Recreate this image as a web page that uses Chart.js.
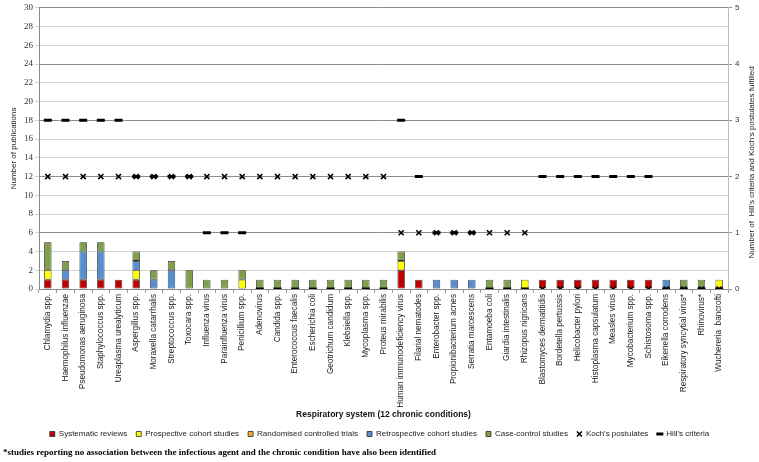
<!DOCTYPE html>
<html>
<head>
<meta charset="utf-8">
<script src="https://cdn.jsdelivr.net/npm/chart.js@4.4.1/dist/chart.umd.min.js"></script>
<style>
  html, body { margin: 0; padding: 0; background: #fff; }
  #wrap { position: relative; width: 759px; height: 462px; overflow: hidden; }
  #note { position: absolute; left: 3px; top: 447px; font: bold 9px "Liberation Serif", "Times New Roman", serif; color: #000; white-space: nowrap; }
</style>
</head>
<body>
<div id="wrap">
  <canvas id="c" width="759" height="462"></canvas>
  <div id="note">*studies reporting no association between the infectious agent and the chronic condition have also been identified</div>
</div>
<script>
const categories = [
  "Chlamydia spp.", "Haemophilus influenzae", "Pseudomonas aeruginosa", "Staphylococcus spp.",
  "Ureaplasma urealyticum", "Aspergillus spp.", "Moraxella catarrhalis", "Streptococcus spp.",
  "Toxocara spp.", "Influenza virus", "Parainfluenza virus", "Penicillium spp.", "Adenovirus",
  "Candida spp.", "Enterococcus faecalis", "Escherichia coli", "Geotrichum candidum",
  "Klebsiella spp.", "Mycoplasma spp.", "Proteus mirabilis", "Human immunodeficiency virus",
  "Filarial nematodes", "Enterobacter spp.", "Propionibacterium acnes", "Serratia marcescens",
  "Entamoeba coli", "Giardia intestinalis", "Rhizopus nigricans", "Blastomyces dermatitidis",
  "Bordetella pertussis", "Helicobacter pylori", "Histoplasma capsulatum", "Measles virus",
  "Mycobacterium spp.", "Schistosoma spp.", "Eikenella corrodens", "Respiratory syncytial virus*",
  "Rhinovirus*", "Wuchereria  bancrofti"
];
const systematicReviews = [1,1,1,1,1,1,0,0,0,0,0,0,0,0,0,0,0,0,0,0,2,1,0,0,0,0,0,0,1,1,1,1,1,1,1,0,0,0,0];
const prospectiveCohort = [1,0,0,0,0,1,0,0,0,0,0,1,0,0,0,0,0,0,0,0,1,0,0,0,0,0,0,1,0,0,0,0,0,0,0,0,0,0,1];
const randomisedTrials  = [0,0,0,0,0,0,0,0,0,0,0,0,0,0,0,0,0,0,0,0,0,0,0,0,0,0,0,0,0,0,0,0,0,0,0,0,0,0,0];
const retrospectiveCohort = [0,1,3,3,0,1,1,2,0,0,0,0,0,0,0,0,0,0,0,0,0,0,1,1,1,0,0,0,0,0,0,0,0,0,0,1,0,0,0];
const caseControl = [3,1,1,1,0,1,1,1,2,1,1,1,1,1,1,1,1,1,1,1,1,0,0,0,0,1,1,0,0,0,0,0,0,0,0,0,1,1,0];
const kochPostulates = [2,2,2,2,2,2,2,2,2,2,2,2,2,2,2,2,2,2,2,2,1,1,1,1,1,1,1,1,0,0,0,0,0,0,0,0,0,0,0];
const hillCriteria   = [3,3,3,3,3,2,2,2,2,1,1,1,0,0,0,0,0,0,0,0,3,2,1,1,1,0,0,0,2,2,2,2,2,2,2,0,0,0,0];
const leftTicks = [0,2,4,6,8,10,12,14,16,18,20,22,24,26,28,30];
const rightTicks = [0,1,2,3,4,5];

const nz = arr => arr.map(v => v === 0 ? null : v);
const barBase = {
  type: 'bar', yAxisID: 'y', stack: 's', order: 1,
  borderColor: '#2a2a2a', borderWidth: 0.8, borderSkipped: false,
  barPercentage: 0.42, categoryPercentage: 1.0, pointStyle: 'rect'
};

const rightTitle = {
  id: 'rightTitle',
  afterDraw(chart) {
    const {ctx, chartArea} = chart;
    ctx.save();
    ctx.translate(752, (chartArea.top + chartArea.bottom) / 2 + 14);
    ctx.rotate(-Math.PI / 2);
    ctx.font = '8px "Liberation Sans", Arial, sans-serif';
    ctx.fillStyle = '#222';
    ctx.textAlign = 'center';
    ctx.textBaseline = 'middle';
    ctx.fillText("Number of  Hill's criteria and Koch's postulates fulfilled", 0, 0);
    ctx.restore();
  }
};

new Chart(document.getElementById('c'), {
  data: {
    labels: categories,
    datasets: [
      Object.assign({}, barBase, {label: 'Systematic reviews', data: nz(systematicReviews), backgroundColor: '#C00000'}),
      Object.assign({}, barBase, {label: 'Prospective cohort studies', data: nz(prospectiveCohort), backgroundColor: '#FFFF00'}),
      Object.assign({}, barBase, {label: 'Randomised controlled trials', data: nz(randomisedTrials), backgroundColor: '#F0A830'}),
      Object.assign({}, barBase, {label: 'Retrospective cohort studies', data: nz(retrospectiveCohort), backgroundColor: '#558ED5'}),
      Object.assign({}, barBase, {label: 'Case-control studies', data: nz(caseControl), backgroundColor: '#7F9F4A'}),
      {
        type: 'line', label: "Koch's postulates", data: kochPostulates, yAxisID: 'y1', order: 0,
        showLine: false, pointStyle: 'crossRot', pointRadius: 3.6, pointBorderWidth: 1.6,
        borderColor: '#000', backgroundColor: '#000', pointBorderColor: '#000', pointBackgroundColor: '#000'
      },
      {
        type: 'line', label: "Hill's criteria", data: hillCriteria, yAxisID: 'y1', order: 0,
        showLine: false, pointStyle: 'line', pointRadius: 4, pointBorderWidth: 3,
        borderColor: '#000', backgroundColor: '#000', pointBorderColor: '#000', pointBackgroundColor: '#000'
      }
    ]
  },
  options: {
    responsive: false,
    animation: false,
    devicePixelRatio: 1,
    layout: { padding: { left: 0, right: 0, top: 5, bottom: 14 } },
    plugins: {
      tooltip: { enabled: false },
      legend: {
        position: 'bottom',
        labels: {
          usePointStyle: true, boxWidth: 5, boxHeight: 5, padding: 9,
          color: '#222',
          font: { family: '"Liberation Sans", Arial, sans-serif', size: 8 },
          sort: (a, b) => a.datasetIndex - b.datasetIndex
        }
      }
    },
    scales: {
      x: {
        stacked: true,
        grid: { display: true, drawOnChartArea: false, drawTicks: true, tickLength: 4, color: '#9a9a9a', offset: true },
        border: { color: '#8a8a8a' },
        ticks: {
          autoSkip: false, maxRotation: 90, minRotation: 90, padding: 1, color: '#222',
          font: { family: '"Liberation Sans", Arial, sans-serif', size: 8.2 }
        },
        title: {
          display: true, text: 'Respiratory system (12 chronic conditions)', color: '#111',
          font: { family: '"Liberation Sans", Arial, sans-serif', size: 8.5, weight: 'bold' },
          padding: { top: 0, bottom: 1 }
        },
        afterFit(scale) { scale.height = 132; }
      },
      y: {
        type: 'linear', position: 'left', stacked: true, min: 0, max: 30,
        afterBuildTicks(scale) { scale.ticks = leftTicks.map(v => ({value: v})); },
        grid: { color: '#d2d2d2', tickLength: 4, lineWidth: 1 },
        border: { color: '#8a8a8a' },
        ticks: { padding: 2, color: '#333', font: { family: '"Liberation Serif", "Times New Roman", serif', size: 9 } },
        title: {
          display: true, text: 'Number of publications', color: '#222',
          font: { family: '"Liberation Sans", Arial, sans-serif', size: 8 },
          padding: { top: 9, bottom: 0 }
        },
        afterFit(scale) { scale.width = 39; }
      },
      y1: {
        type: 'linear', position: 'right', min: 0, max: 5,
        afterBuildTicks(scale) { scale.ticks = rightTicks.map(v => ({value: v})); },
        grid: { color: '#8c8c8c', tickLength: 4, lineWidth: 1 },
        border: { color: '#bdbdbd' },
        ticks: { padding: 3, color: '#333', font: { family: '"Liberation Sans", Arial, sans-serif', size: 8 } },
        afterFit(scale) { scale.width = 31; }
      }
    }
  },
  plugins: [rightTitle]
});
</script>
</body>
</html>
